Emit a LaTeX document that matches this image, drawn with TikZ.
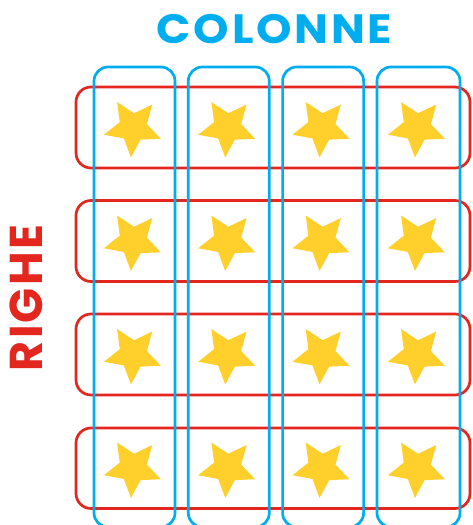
\documentclass[tikz,border=0pt]{standalone}
\usepackage{fontspec}
\setsansfont{Poppins}
\usepackage{xcolor}
\definecolor{gridblue}{HTML}{00AEEF}
\definecolor{gridred}{HTML}{E3261E}
\definecolor{staryellow}{HTML}{FFD02B}
\usetikzlibrary{shapes.geometric}

\tikzset{
  rowbox/.style={draw=gridred, line width=2.7pt, rounded corners=15pt},
  colbox/.style={draw=gridblue, line width=2.7pt, rounded corners=14pt},
  gold/.style={star, star points=5, star point ratio=2.1, fill=staryellow, draw=none,
    minimum size=60pt, inner sep=0pt, shape border rotate=32},
}

\begin{document}
\begin{tikzpicture}[x=1pt, y=-1pt]
  \useasboundingbox (0,0) rectangle (472,525);

  % Titles
  \node[font=\sffamily\bfseries\fontsize{41}{41}\selectfont\addfontfeature{LetterSpace=6}, text=gridblue, xscale=1.1] (colonne) at (274.5,29.5) {COLONNE};
  \node[font=\sffamily\bfseries\fontsize{46}{46}\selectfont\addfontfeature{LetterSpace=5}, text=gridred, rotate=90] (righe) at (26.5,298) {RIGHE};

  % --- Rows (red) ---
  \draw[rowbox] (76,87) rectangle (470,168);
  \draw[rowbox] (76,200.5) rectangle (470,281.5);
  \draw[rowbox] (76,314) rectangle (470,395);
  \draw[rowbox] (76,428) rectangle (470,508.5);

  % --- Columns (blue) ---
  \draw[colbox] (94,67) rectangle (175,527);
  \draw[colbox] (188.3,67) rectangle (269.3,527);
  \draw[colbox] (282.6,67) rectangle (363.6,527);
  \draw[colbox] (377,67) rectangle (460,527);

  % --- Stars ---
  % Row 1
  \node[gold] (s11) at (133,127.5) {};
  \node[gold] (s12) at (227.3,127.5) {};
  \node[gold] (s13) at (321.6,127.5) {};
  \node[gold] (s14) at (417,127.5) {};
  % Row 2
  \node[gold] (s21) at (133,241) {};
  \node[gold] (s22) at (227.3,241) {};
  \node[gold] (s23) at (321.6,241) {};
  \node[gold] (s24) at (417,241) {};
  % Row 3
  \node[gold] (s31) at (133,354.5) {};
  \node[gold] (s32) at (227.3,354.5) {};
  \node[gold] (s33) at (321.6,354.5) {};
  \node[gold] (s34) at (417,354.5) {};
  % Row 4
  \node[gold] (s41) at (133,468) {};
  \node[gold] (s42) at (227.3,468) {};
  \node[gold] (s43) at (321.6,468) {};
  \node[gold] (s44) at (417,468) {};
\end{tikzpicture}
\end{document}
